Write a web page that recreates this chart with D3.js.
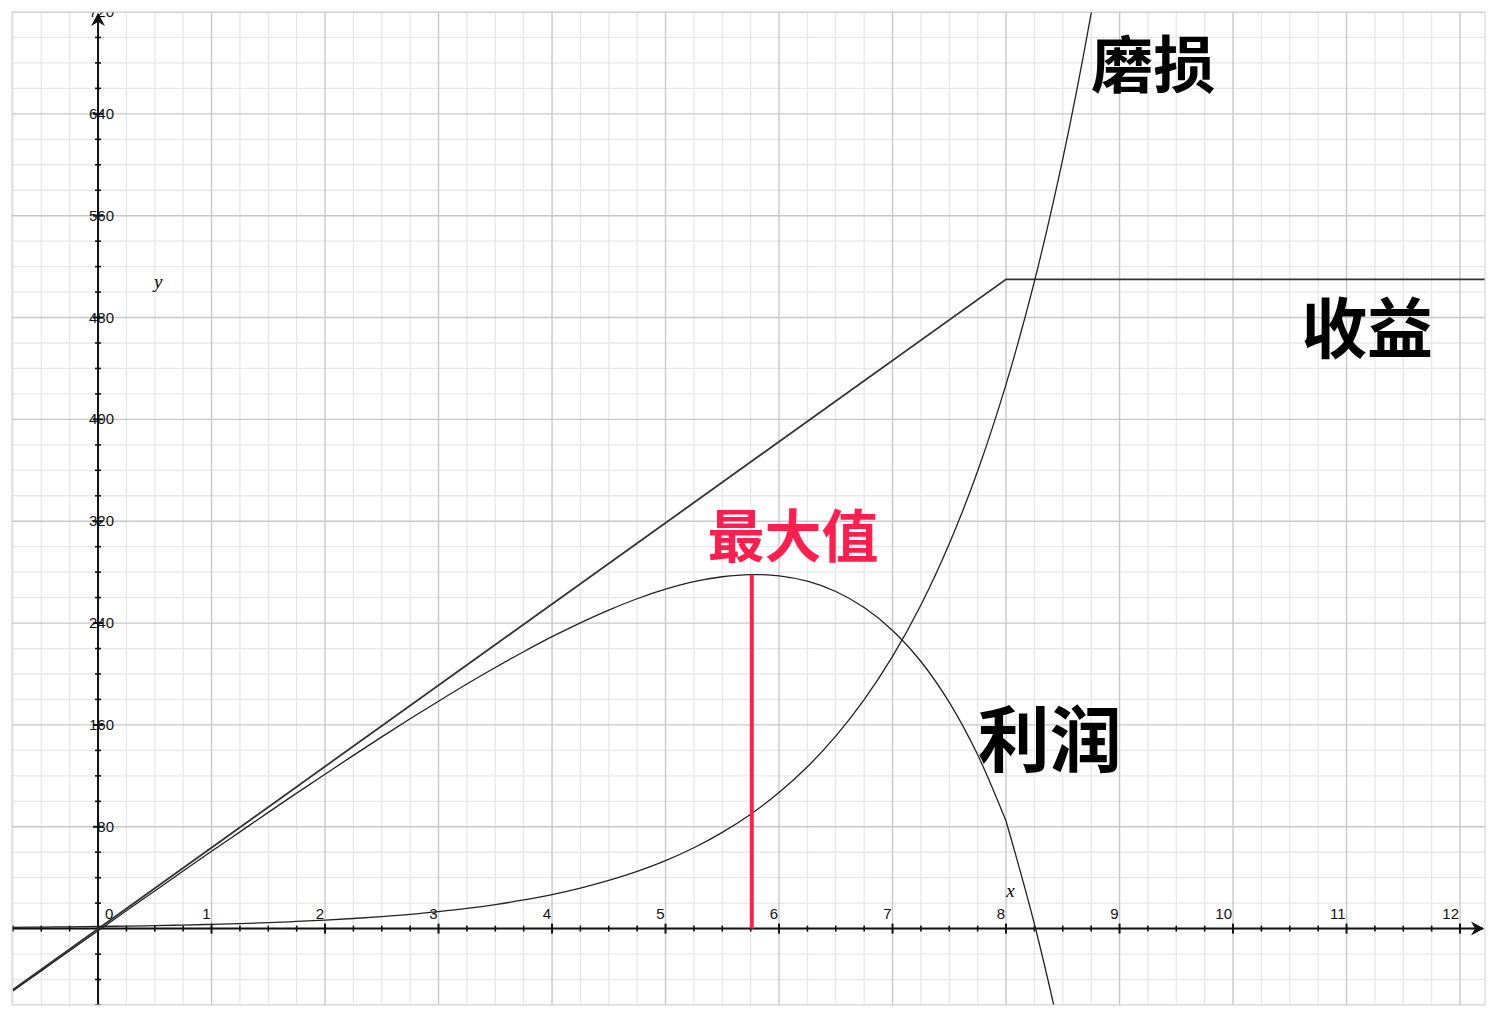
<!DOCTYPE html>
<html><head><meta charset="utf-8">
<script src="https://cdn.jsdelivr.net/npm/d3@7"></script>
<style>html,body{margin:0;padding:0;background:#fff;}svg{display:block;}</style>
</head><body>
<script>
// ---- data ----
const sampleX = [-0.75,-0.5,-0.25,0,0.25,0.5,0.75,1,1.25,1.5,1.75,2,2.25,2.5,2.75,3,3.25,3.5,3.75,4,4.25,4.5,4.75,5,5.25,5.5,5.75,6,6.25,6.5,6.75,7,7.25,7.5,7.75,8,8.25,8.5,8.75,9];
// 磨损 (wear / cost)
const wearY = [0.99,1.18,1.4,1.67,1.99,2.36,2.81,3.34,3.97,4.72,5.62,6.68,7.94,9.45,11.2,13.4,15.9,18.9,22.5,26.7,31.8,37.8,44.9,53.4,63.5,75.6,89.9,106.9,127.1,151.2,179.8,213.8,254.2,302.3,359.5,427.5,508.4,604.6,719,855];
// 利润 (profit)
const profitY = [-49.0,-33.2,-17.4,-1.67,14.0,29.6,45.2,60.7,76.0,91.3,106.4,121.3,136.1,150.6,164.8,178.6,192.1,205.1,217.5,229.3,240.2,250.2,259.1,266.6,272.5,276.4,278.1,277.1,272.9,264.8,252.2,234.2,209.8,177.7,136.5,84.5,3.6,-92.6,-207,-343];
// 收益 (revenue), piecewise linear corners
const revenueX = [-0.75, 8, 12.3];
const revenueY = [-48, 510, 510];
// maximum of profit
const maxX = 5.76, maxY = 278;
// ticks
const xTickLabels = [1,2,3,4,5,6,7,8,9,10,11,12];
const yTickLabels = [80,160,240,320,400,480,560,640,720];
// handwritten labels
const notes = [
  {text:"磨损", x:8.75, y:660, size:62, color:"#000"},
  {text:"收益", x:10.6, y:452, size:66, color:"#000"},
  {text:"利润", x:7.75, y:128, size:72, color:"#000"},
  {text:"最大值", x:5.37, y:292, size:57, color:"#ff1f4f"}
];

const W = 1497, H = 1019;
const L = 12, R = 1485, T = 12, B = 1005;
const x = d3.scaleLinear().domain([-0.758, 12.22]).range([L, R]);
const y = d3.scaleLinear().domain([-60, 720]).range([B, T]);

const svg = d3.select("body").append("svg").attr("width", W).attr("height", H);
svg.append("defs").append("clipPath").attr("id","clip")
  .append("rect").attr("x",L).attr("y",T).attr("width",R-L).attr("height",B-T);

const g = svg.append("g").attr("clip-path","url(#clip)");
g.append("rect").attr("x",L).attr("y",T).attr("width",R-L).attr("height",B-T).attr("fill","#fff");

// minor grid
const minorX = d3.range(-3, 50).map(i => i*0.25).filter(v => v % 1 !== 0);
const minorY = d3.range(-3, 37).map(i => i*20).filter(v => v % 80 !== 0);
g.selectAll(".mx").data(minorX).join("line")
  .attr("x1",d=>x(d)).attr("x2",d=>x(d)).attr("y1",T).attr("y2",B)
  .attr("stroke","#e8e8e8").attr("stroke-width",1.3);
g.selectAll(".my").data(minorY).join("line")
  .attr("y1",d=>y(d)).attr("y2",d=>y(d)).attr("x1",L).attr("x2",R)
  .attr("stroke","#e8e8e8").attr("stroke-width",1.3);
// major grid
const majorX = d3.range(-0, 13);
const majorY = d3.range(-0, 10).map(i=>i*80);
g.selectAll(".Mx").data(majorX).join("line")
  .attr("x1",d=>x(d)).attr("x2",d=>x(d)).attr("y1",T).attr("y2",B)
  .attr("stroke","#c8c8c8").attr("stroke-width",1.4);
g.selectAll(".My").data(majorY).join("line")
  .attr("y1",d=>y(d)).attr("y2",d=>y(d)).attr("x1",L).attr("x2",R)
  .attr("stroke","#c8c8c8").attr("stroke-width",1.4);

// axes
const axisColor = "#111";
g.append("line").attr("x1",L).attr("x2",R-2).attr("y1",y(0)).attr("y2",y(0))
  .attr("stroke",axisColor).attr("stroke-width",2);
g.append("line").attr("x1",x(0)).attr("x2",x(0)).attr("y1",B).attr("y2",T+2)
  .attr("stroke",axisColor).attr("stroke-width",2);
// ticks
const xTicksAll = d3.range(-3, 49).map(i=>i*0.25).filter(v=>v!==0);
g.selectAll(".xt").data(xTicksAll).join("line")
  .attr("x1",d=>x(d)).attr("x2",d=>x(d))
  .attr("y1",d=> y(0) - (d%1===0?5:3)).attr("y2",d=> y(0) + (d%1===0?5:3))
  .attr("stroke",axisColor).attr("stroke-width",d=>d%1===0?2:1.6);
const yTicksAll = d3.range(-3, 36).map(i=>i*20).filter(v=>v!==0);
g.selectAll(".yt").data(yTicksAll).join("line")
  .attr("y1",d=>y(d)).attr("y2",d=>y(d))
  .attr("x1",d=> x(0) - (d%80===0?5:3)).attr("x2",d=> x(0) + (d%80===0?5:3))
  .attr("stroke",axisColor).attr("stroke-width",d=>d%80===0?2:1.6);
// arrows
g.append("path").attr("d",`M${R-14},${y(0)-7} L${R-1},${y(0)} L${R-14},${y(0)+7} L${R-10},${y(0)} Z`)
  .attr("fill",axisColor);
g.append("path").attr("d",`M${x(0)-7},${T+14} L${x(0)},${T+1} L${x(0)+7},${T+14} L${x(0)},${T+10} Z`)
  .attr("fill",axisColor);

// tick labels
const lab = g.append("g").attr("font-family","'Liberation Sans', Arial, sans-serif")
  .attr("font-size",15).attr("fill","#111");
lab.selectAll(".xl").data(xTickLabels).join("text")
  .attr("x",d=>x(d)-1).attr("y",y(0)-10).attr("text-anchor","end").text(d=>d);
lab.append("text").attr("x",x(0)+7).attr("y",y(0)-10).text("0");
lab.selectAll(".yl").data(yTickLabels).join("text")
  .attr("x",x(0)+16).attr("y",d=>y(d)+5).attr("text-anchor","end").text(d=>d);

// axis names
g.append("text").attr("x",x(8.04)).attr("y",y(25)).attr("font-family","'Liberation Serif', serif")
  .attr("font-style","italic").attr("font-size",19).attr("text-anchor","middle").text("x");
g.append("text").attr("x",x(0.53)).attr("y",y(503)).attr("font-family","'Liberation Serif', serif")
  .attr("font-style","italic").attr("font-size",19).attr("text-anchor","middle").text("y");

// curves
const pts = (xs, ys) => xs.map((v,i)=>[v, ys[i]]);
const smooth = d3.line().x(d=>x(d[0])).y(d=>y(d[1])).curve(d3.curveCatmullRom.alpha(0.5));
const straight = d3.line().x(d=>x(d[0])).y(d=>y(d[1]));
g.append("path").attr("d", straight(pts(revenueX, revenueY)))
  .attr("fill","none").attr("stroke","#333").attr("stroke-width",1.8);
g.append("path").attr("d", smooth(pts(sampleX, wearY)))
  .attr("fill","none").attr("stroke","#222").attr("stroke-width",1.3);
// profit: kink at x=8
const pp = pts(sampleX, profitY);
const k = sampleX.indexOf(8);
g.append("path").attr("d", smooth(pp.slice(0,k+1)))
  .attr("fill","none").attr("stroke","#222").attr("stroke-width",1.3);
g.append("path").attr("d", smooth(pp.slice(k)))
  .attr("fill","none").attr("stroke","#222").attr("stroke-width",1.3);

// max line
g.append("line").attr("x1",x(maxX)).attr("x2",x(maxX)).attr("y1",y(0)).attr("y2",y(maxY))
  .attr("stroke","#ff1f4f").attr("stroke-width",4);

// handwritten notes
g.selectAll(".note").data(notes).join("text")
  .attr("x",d=>x(d.x)).attr("y",d=>y(d.y))
  .attr("font-family","'Noto Sans CJK SC', sans-serif").attr("font-weight",700)
  .attr("font-size",d=>d.size)
  .attr("fill",d=>d.color).text(d=>d.text);

// border
svg.append("rect").attr("x",L).attr("y",T).attr("width",R-L).attr("height",B-T)
  .attr("fill","none").attr("stroke","#d0d0d0").attr("stroke-width",1);
</script>
</body></html>
